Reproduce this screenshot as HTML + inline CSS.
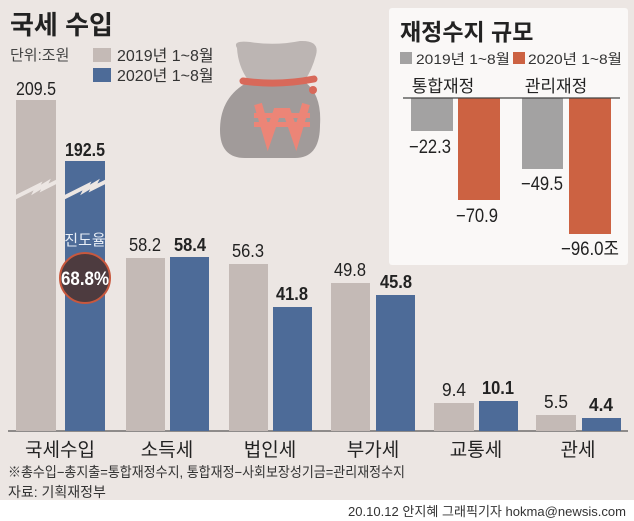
<!DOCTYPE html>
<html><head><meta charset="utf-8"><style>
body{margin:0;width:634px;height:521px;overflow:hidden;background:#ece6e3;font-family:"Liberation Sans","Noto Sans CJK KR",sans-serif;}
</style></head><body>
<svg width="634" height="521" xmlns="http://www.w3.org/2000/svg" style="position:absolute;left:0;top:0;font-family:'Liberation Sans','Noto Sans CJK KR',sans-serif">
<rect width="634" height="521" fill="#ece6e3"/>
<rect y="500" width="634" height="21" fill="#ffffff"/>
<text x="10" y="34" font-size="26" font-weight="bold" fill="#222">국세 수입</text>
<text x="10" y="60" font-size="15" fill="#444">단위:조원</text>
<rect x="93" y="48" width="18" height="14" fill="#c4bab6"/>
<text x="117" y="61" font-size="16" fill="#333">2019년 1~8월</text>
<rect x="93" y="68" width="18" height="14" fill="#4d6b98"/>
<text x="117" y="81" font-size="16" fill="#333">2020년 1~8월</text>
<!-- money bag -->
<path d="M237 48 Q232 40 250 42 Q275 46 300 41 Q320 40 316 55 Q312 70 305 80 L248 80 Q238 66 237 48Z" fill="#bcb5b3"/>
<path d="M248 82 L305 82 Q322 95 320 125 Q320 158 295 158 L245 158 Q220 158 220 130 Q220 97 248 82Z" fill="#a19b9a"/>
<path d="M243 81 Q278 86 314 79" stroke="#d8695a" stroke-width="7" fill="none" stroke-linecap="round"/>
<circle cx="313" cy="90" r="4" fill="#d8695a"/>
<path d="M258 104 L268 138 L277 112 L287 112 L296 138 L306 104" stroke="#ec8577" stroke-width="8" fill="none" stroke-linejoin="miter"/>
<rect x="254" y="113" width="56" height="5" fill="#ec8577"/>
<rect x="254" y="122" width="56" height="5" fill="#ec8577"/>
<!-- baseline -->
<line x1="8" y1="431" x2="628" y2="431" stroke="#555" stroke-width="1.2"/>
<g>
<rect x="16" y="100" width="40" height="331" fill="#c4bab6"/>
<rect x="65" y="161" width="40" height="270" fill="#4d6b98"/>
<path d="M14 198 L38 186 L36 190 L46 184 L44 188 L58 181" stroke="#ece6e3" stroke-width="4" fill="none"/>
<path d="M63 198 L87 186 L85 190 L95 184 L93 188 L107 181" stroke="#ece6e3" stroke-width="4" fill="none"/>
<rect x="126" y="258" width="39" height="173" fill="#c4bab6"/>
<rect x="170" y="257" width="39" height="174" fill="#4d6b98"/>
<rect x="229" y="264" width="39" height="167" fill="#c4bab6"/>
<rect x="273" y="307" width="39" height="124" fill="#4d6b98"/>
<rect x="331" y="283" width="39" height="148" fill="#c4bab6"/>
<rect x="376" y="295" width="39" height="136" fill="#4d6b98"/>
<rect x="434" y="403" width="40" height="28" fill="#c4bab6"/>
<rect x="479" y="401" width="39" height="30" fill="#4d6b98"/>
<rect x="536" y="415" width="40" height="16" fill="#c4bab6"/>
<rect x="582" y="418" width="39" height="13" fill="#4d6b98"/>
</g>
<g font-size="18" fill="#222" text-anchor="middle">
<text x="36" y="95" textLength="40" lengthAdjust="spacingAndGlyphs">209.5</text>
<text x="85" y="156" font-weight="bold" textLength="40" lengthAdjust="spacingAndGlyphs">192.5</text>
<text x="145" y="251" textLength="32" lengthAdjust="spacingAndGlyphs">58.2</text>
<text x="190" y="251" font-weight="bold" textLength="32" lengthAdjust="spacingAndGlyphs">58.4</text>
<text x="248" y="257" textLength="32" lengthAdjust="spacingAndGlyphs">56.3</text>
<text x="292" y="300" font-weight="bold" textLength="32" lengthAdjust="spacingAndGlyphs">41.8</text>
<text x="350" y="276" textLength="32" lengthAdjust="spacingAndGlyphs">49.8</text>
<text x="396" y="288" font-weight="bold" textLength="32" lengthAdjust="spacingAndGlyphs">45.8</text>
<text x="454" y="396" textLength="24" lengthAdjust="spacingAndGlyphs">9.4</text>
<text x="498" y="394" font-weight="bold" textLength="32" lengthAdjust="spacingAndGlyphs">10.1</text>
<text x="556" y="408" textLength="24" lengthAdjust="spacingAndGlyphs">5.5</text>
<text x="601" y="411" font-weight="bold" textLength="24" lengthAdjust="spacingAndGlyphs">4.4</text>
</g>
<text x="85" y="245" font-size="15" fill="#e8eef6" text-anchor="middle">진도율</text>
<circle cx="85" cy="278" r="25" fill="#4d3b3f" stroke="#c8583e" stroke-width="2"/>
<text x="85" y="285" font-size="19" font-weight="bold" fill="#fff" text-anchor="middle" textLength="48" lengthAdjust="spacingAndGlyphs">68.8%</text>
<g font-size="19" fill="#222" text-anchor="middle">
<text x="60" y="456">국세수입</text>
<text x="167" y="456">소득세</text>
<text x="270" y="456">법인세</text>
<text x="373" y="456">부가세</text>
<text x="476" y="456">교통세</text>
<text x="578" y="456">관세</text>
</g>
<text x="8" y="477" font-size="14" fill="#333" textLength="397" lengthAdjust="spacingAndGlyphs">※총수입−총지출=통합재정수지, 통합재정−사회보장성기금=관리재정수지</text>
<text x="8" y="497" font-size="14" fill="#333">자료: 기획재정부</text>
<text x="626" y="516" font-size="13" fill="#333" text-anchor="end" textLength="278" lengthAdjust="spacingAndGlyphs">20.10.12 안지혜 그래픽기자 hokma@newsis.com</text>
<!-- panel -->
<rect x="389" y="8" width="239" height="257" rx="3" fill="#faf8f7"/>
<text x="400" y="40" font-size="23" font-weight="bold" fill="#222">재정수지 규모</text>
<rect x="400" y="52" width="12" height="12" fill="#a3a2a2"/>
<text x="416" y="64" font-size="14" fill="#333" textLength="94" lengthAdjust="spacingAndGlyphs">2019년 1~8월</text>
<rect x="513" y="52" width="12" height="12" fill="#cc6242"/>
<text x="528" y="64" font-size="14" fill="#333" textLength="94" lengthAdjust="spacingAndGlyphs">2020년 1~8월</text>
<text x="443" y="92" font-size="17" fill="#222" text-anchor="middle">통합재정</text>
<text x="556" y="92" font-size="17" fill="#222" text-anchor="middle">관리재정</text>
<rect x="411" y="98" width="42" height="33" fill="#a3a2a2"/>
<rect x="458" y="98" width="42" height="102" fill="#cc6242"/>
<rect x="522" y="98" width="41" height="71" fill="#a3a2a2"/>
<rect x="569" y="98" width="42" height="136" fill="#cc6242"/>
<line x1="403" y1="98" x2="620" y2="98" stroke="#444" stroke-width="1.2"/>
<g font-size="19" fill="#222" text-anchor="middle">
<text x="430" y="153" textLength="42" lengthAdjust="spacingAndGlyphs">−22.3</text>
<text x="477" y="222" textLength="42" lengthAdjust="spacingAndGlyphs">−70.9</text>
<text x="542" y="190" textLength="42" lengthAdjust="spacingAndGlyphs">−49.5</text>
<text x="590" y="255" textLength="58" lengthAdjust="spacingAndGlyphs">−96.0조</text>
</g>
</svg>
</body></html>
